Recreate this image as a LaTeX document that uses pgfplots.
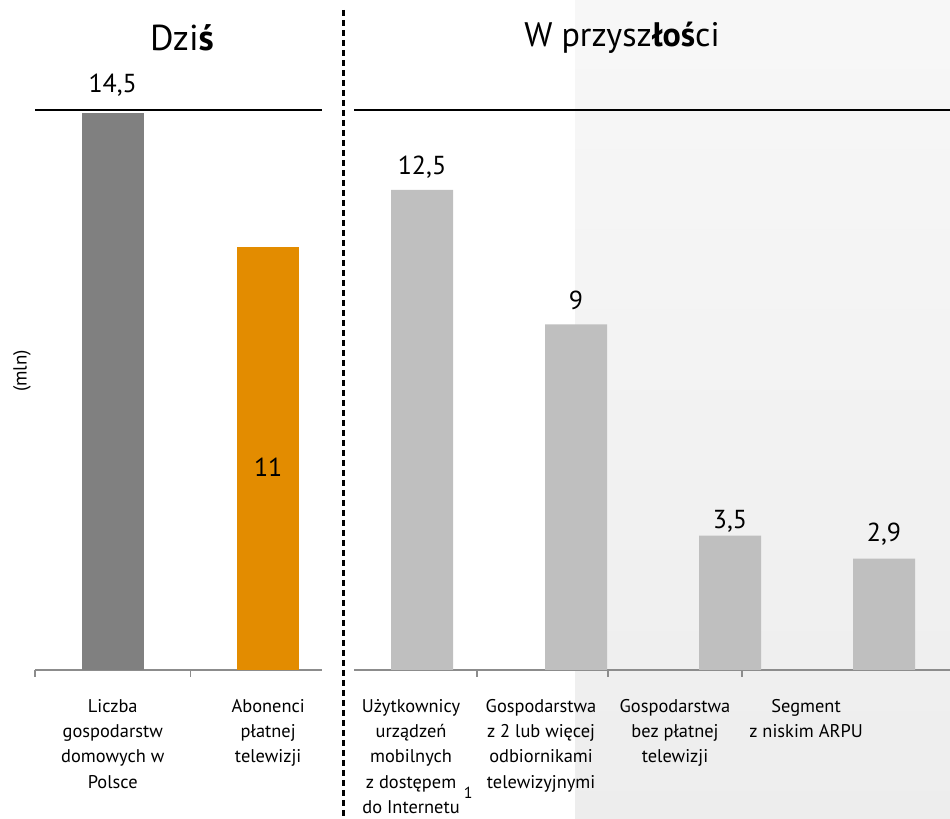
\documentclass[border=0pt]{standalone}
\usepackage{fontspec}
\setmainfont{PT Sans}
\usepackage{pgfplots}
\pgfplotsset{compat=1.18}

\definecolor{darkbar}{HTML}{808080}
\definecolor{orangebar}{HTML}{E38C00}
\definecolor{lightbar}{HTML}{BFBFBF}
\definecolor{axisgray}{HTML}{8C8C8C}

\pgfplotsset{
  panel/.style={
    scale only axis, height=280pt,
    ymin=0, ymax=14.58,
    axis y line=none, axis x line*=bottom,
    x axis line style={draw=axisgray, line width=0.8pt},
    xtick style={draw=none}, major tick length=0pt,
    extra x tick labels={},
    extra x tick style={
      xtick style={draw=axisgray, line width=0.8pt},
      major tick length=3.5pt, tick align=outside},
    x tick label style={font=\fontsize{9.2}{12.6}\selectfont, align=center,
      anchor=north, yshift=-14.5pt, inner sep=0pt},
    clip=false,
  },
  valbar/.style={
    ybar, bar shift=0pt, bar width=31pt, draw=none,
    point meta=explicit symbolic,
    visualization depends on={\thisrow{dy} \as \dy},
    nodes near coords,
    every node near coord/.append style={font=\fontsize{13}{15}\selectfont,
      anchor=base, inner sep=0pt, yshift=\dy pt},
  },
}

\begin{document}
\begin{tikzpicture}
\path[use as bounding box] (0,0) rectangle (475pt,409.5pt);
\shade[top color=black!3, middle color=white, bottom color=black!7]
  (287.5pt,0) rectangle (475pt,409.5pt);
\draw[black, line width=1.5pt, dash pattern=on 3pt off 2pt]
  (171.5pt,404.5pt) -- (171.5pt,0);

\node[font=\fontsize{18}{21}\selectfont] at (91pt,390.5pt) {Dzi\textbf{ś}};
\node[font=\fontsize{17}{20}\selectfont] at (311pt,390.5pt) {W przysz\textbf{łoś}ci};
\node[font=\fontsize{9.5}{11}\selectfont, rotate=90] at (11pt,224pt) {(mln)};

% Dziś
\begin{axis}[panel, at={(17.5pt,74.5pt)}, anchor=south west,
  width=143.5pt, xmin=-0.5, xmax=1.346,
  xtick={0,1},
  xticklabels={{Liczba\\gospodarstw\\domowych w\\Polsce},{Abonenci\\płatnej\\telewizji}},
  extra x ticks={-0.5,0.5}]
\addplot[valbar, fill=darkbar] table[x=x, y=y, meta=lbl] {
x y lbl dy
0 14.5 14,5 10.5
};
\addplot[ybar, bar shift=0pt, bar width=31pt, draw=none, fill=orangebar]
  coordinates {(1,11)};
\draw[black, line width=1pt] (rel axis cs:0,1) -- (rel axis cs:1,1);
\node[font=\fontsize{13}{15}\selectfont] at (axis cs:1,5.29) {11};
\end{axis}

% W przyszłości
\begin{axis}[panel, at={(177pt,74.5pt)}, anchor=south west,
  width=298pt, xmin=-0.4416, xmax=3.4286,
  xtick={-0.071,0.773,1.643,2.494},
  xticklabels={{Użytkownicy\\urządzeń\\mobilnych\\z dostępem\\do Internetu},
    {Gospodarstwa\\z 2 lub więcej\\odbiornikami\\telewizyjnymi},
    {Gospodarstwa\\bez płatnej\\telewizji},
    {Segment\\z niskim ARPU}},
  extra x ticks={0.357,1.208,2.078}]
\addplot[valbar, fill=lightbar] table[x=x, y=y, meta=lbl] {
x y lbl dy
0 12.5 12,5 7.5
1 9 9 7.5
2 3.5 3,5 3.5
3 2.9 2,9 8.5
};
\draw[black, line width=1pt] (rel axis cs:0,1) -- (rel axis cs:1,1);
\node[font=\fontsize{8}{10}\selectfont] at (axis cs:0.30,-3.2) {1};
\end{axis}
\end{tikzpicture}
\end{document}
